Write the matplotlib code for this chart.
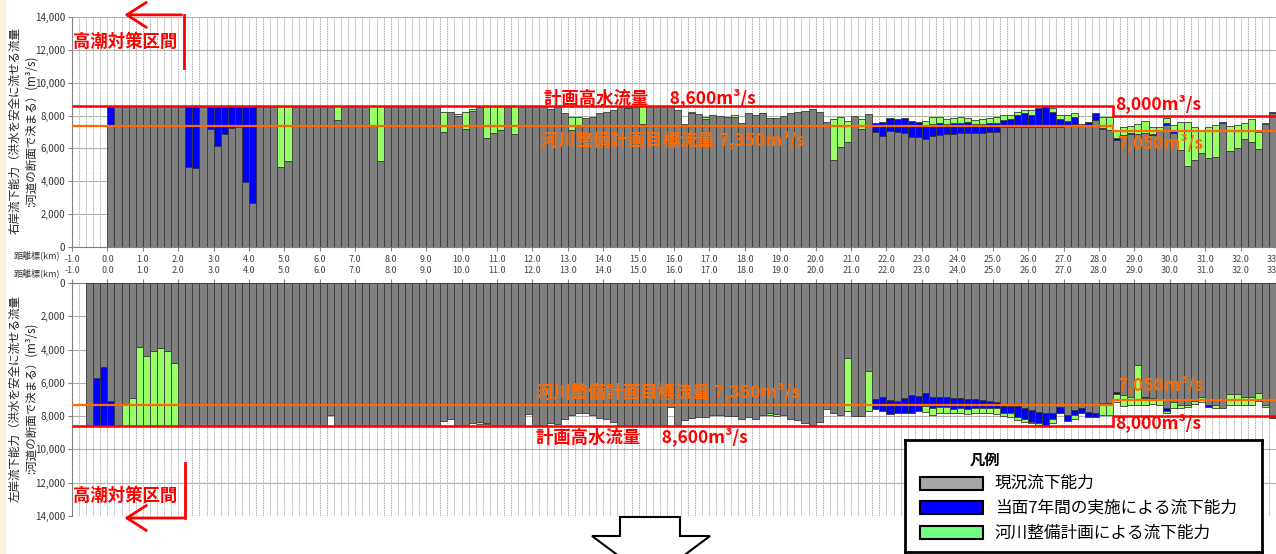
import numpy as np
import matplotlib.pyplot as plt
from matplotlib.patches import Rectangle, Polygon

plt.rcParams['font.family'] = ['Noto Sans CJK JP', 'DejaVu Sans']

# distance marks (km), 0.2 km pitch
right_km = np.round(np.arange(0.0, 32.9, 0.2), 1)   # 右岸 0.0 .. 32.8
left_km = np.round(np.arange(-0.6, 32.9, 0.2), 1)   # 左岸 -0.6 .. 32.8

# 右岸 現況流下能力 (m3/s), one row = 1 km
right_now = [
    7400, 8600, 8600, 8600, 8600,   # 0
    8600, 8600, 8600, 8600, 8600,   # 1
    8600, 4840, 4800, 8600, 7160,   # 2
    6150, 6900, 7220, 7300, 3950,   # 3
    2680, 8600, 8600, 8600, 4880,   # 4
    5220, 8600, 8600, 8600, 8600,   # 5
    8600, 8600, 7730, 8600, 8600,   # 6
    8600, 8600, 7360, 5210, 8600,   # 7
    8600, 8600, 8600, 8600, 8600,   # 8
    8600, 8600, 6980, 8200, 7970,   # 9
    7180, 8300, 8520, 6630, 6960,   # 10
    7120, 8600, 6900, 8600, 8600,   # 11
    8600, 8600, 8400, 8540, 8140,   # 12
    7120, 7360, 7830, 7930, 8140,   # 13
    8200, 8340, 8540, 8440, 8600,   # 14
    7470, 8600, 8600, 8600, 8600,   # 15
    8340, 7470, 8140, 8080, 7810,   # 16
    8030, 7970, 7890, 7890, 7530,   # 17
    8140, 8030, 8140, 7870, 7870,   # 18
    7990, 8140, 8200, 8300, 8380,   # 19
    8240, 7590, 5300, 6110, 6370,   # 20
    7970, 7180, 8080, 7020, 6780,   # 21
    7080, 7020, 6920, 6720, 6720,   # 22
    6570, 6760, 6820, 6880, 6880,   # 23
    6920, 6960, 6960, 6960, 6980,   # 24
    7020, 7320, 7320, 7320, 7320,   # 25
    7320, 7320, 7320, 7320, 7320,   # 26
    7360, 7490, 7490, 7430, 7730,   # 27
    7160, 7120, 6510, 6820, 6860,   # 28
    6860, 6960, 6820, 7080, 7430,   # 29
    6960, 5880, 4950, 5300, 5700,   # 30
    5400, 5460, 7570, 5840, 6010,   # 31
    6550, 6400, 5940, 7470, 8140,   # 32
]

# 右岸 当面7年間の実施後の流下能力 (only where it rises)
right_7yr = {
    0.0: 8600, 2.2: 8600, 2.4: 8600, 2.8: 8600, 3.0: 8600, 3.2: 8600,
    3.4: 8600, 3.6: 8600, 3.8: 8600, 4.0: 8600,
    21.6: 7570, 21.8: 7630, 22.0: 7830, 22.2: 7790, 22.4: 7830, 22.6: 7690,
    22.8: 7630, 23.0: 7360, 23.2: 7490, 23.4: 7530, 23.6: 7490, 23.8: 7570,
    24.0: 7530, 24.2: 7590, 24.4: 7470, 24.6: 7490, 24.8: 7530, 25.0: 7570,
    25.2: 7730, 25.4: 7790, 25.6: 8030, 25.8: 8140, 26.0: 8030, 26.2: 8440,
    26.4: 8600, 26.6: 8200, 26.8: 7790, 27.0: 7690, 27.2: 7890, 27.6: 7590,
    27.8: 8140, 28.0: 7240, 28.4: 6610, 28.8: 6960, 29.4: 6900, 29.8: 7530,
    30.0: 7080, 31.4: 7630, 32.8: 8200,
}

# 右岸 河川整備計画による流下能力
right_plan = {
    4.8: 8600, 5.0: 8600, 6.4: 8600, 7.4: 8600, 7.6: 8600,
    9.4: 8240, 9.8: 8090, 10.0: 8240, 10.2: 8380, 10.6: 8600, 10.8: 8600,
    11.0: 8560, 11.4: 8600, 13.0: 7930, 13.2: 7890, 14.6: 8540, 15.0: 8600,
    16.4: 8200, 16.8: 7930, 17.6: 8010, 18.4: 8180,
    20.4: 7770, 20.6: 7930, 20.8: 7690, 21.2: 7770,
    23.0: 7690, 23.2: 7930, 23.4: 7890, 23.6: 7770, 23.8: 7830, 24.0: 7890,
    24.2: 7830, 24.4: 7730, 24.6: 7770, 24.8: 7830, 25.0: 7890, 25.2: 8030,
    25.4: 8030, 25.6: 8240, 25.8: 8340, 26.0: 8340, 26.6: 8440, 26.8: 8030,
    27.0: 8030, 27.2: 8140, 28.0: 7930, 28.2: 7890, 28.4: 7120, 28.6: 7280,
    28.8: 7380, 29.0: 7470, 29.2: 7690, 29.4: 7280, 29.6: 7280, 29.8: 7830,
    30.0: 7430, 30.2: 7630, 30.4: 7630, 30.6: 7280, 30.8: 7080, 31.0: 7320,
    31.2: 7430, 31.6: 7360, 31.8: 7430, 32.0: 7570, 32.2: 7770, 32.4: 7020,
    32.6: 7530,
}

# 左岸 現況流下能力 (m3/s)
left_now = [
    8600, 5690, 5070,               # -0.6 .. -0.2
    7090, 8600, 7330, 6930, 3830,   # 0
    4370, 4070, 3890, 4070, 4790,   # 1
    8600, 8600, 8600, 8600, 8600,   # 2
    8600, 8600, 8600, 8600, 8600,   # 3
    8600, 8600, 8600, 8600, 8600,   # 4
    8600, 8600, 8600, 8600, 8600,   # 5
    8600, 7930, 8600, 8600, 8600,   # 6
    8600, 8600, 8600, 8600, 8600,   # 7
    8600, 8600, 8600, 8600, 8600,   # 8
    8600, 8600, 8270, 8190, 8600,   # 9
    8600, 8390, 8330, 8390, 8600,   # 10
    8600, 8600, 8600, 8600, 7890,   # 11
    8600, 8600, 8390, 8470, 8190,   # 12
    7930, 7830, 7790, 7910, 8130,   # 13
    8190, 8370, 8600, 8600, 8600,   # 14
    8600, 8600, 8600, 8600, 7430,   # 15
    8600, 8230, 8090, 8030, 8030,   # 16
    7950, 7930, 7970, 7970, 8170,   # 17
    8030, 8190, 7910, 7830, 7890,   # 18
    7930, 8190, 8230, 8390, 8530,   # 19
    8330, 7590, 7790, 7930, 4490,   # 20
    7990, 7990, 5270, 6990, 6830,   # 21
    7030, 7070, 6930, 6730, 6770,   # 22
    6630, 6830, 6830, 6870, 6930,   # 23
    6930, 6990, 6970, 7030, 7070,   # 24
    7130, 7390, 7390, 7390, 7530,   # 25
    7630, 7730, 7790, 7830, 7470,   # 26
    7930, 7630, 7530, 7730, 7830,   # 27
    7190, 7190, 6530, 6730, 6830,   # 28
    4930, 6830, 6930, 6990, 7530,   # 29
    7130, 7330, 7330, 7070, 6870,   # 30
    7330, 7330, 7530, 6670, 6670,   # 31
    6830, 6870, 6590, 7330, 8070,   # 32
]

left_7yr = {
    -0.4: 8600, -0.2: 8600, 0.0: 8600,
    21.6: 7590, 21.8: 7670, 22.0: 7890, 22.2: 7790, 22.4: 7830, 22.6: 7830,
    22.8: 7670, 23.0: 7390, 23.2: 7530, 23.4: 7430, 23.6: 7470, 23.8: 7550,
    24.0: 7530, 24.2: 7570, 24.4: 7490, 24.6: 7530, 24.8: 7530, 25.0: 7530,
    25.2: 7790, 25.4: 7830, 25.6: 8070, 25.8: 8190, 26.0: 8330, 26.2: 8430,
    26.4: 8550, 26.6: 8190, 26.8: 7830, 27.0: 8270, 27.2: 7930, 27.4: 7830,
    27.6: 8030, 27.8: 8070, 28.2: 7270, 28.4: 6670, 29.2: 6930, 29.8: 7670,
    31.0: 7430, 32.8: 8130,
}

left_plan = {
    0.4: 8600, 0.6: 8600, 0.8: 8600, 1.0: 8600, 1.2: 8600, 1.4: 8600,
    1.6: 8600, 1.8: 8600, 10.4: 8470, 10.6: 8490, 18.6: 7930, 18.8: 7990,
    20.8: 7690, 21.4: 7690,
    23.0: 7730, 23.2: 7930, 23.4: 7830, 23.6: 7790, 23.8: 7830, 24.0: 7830,
    24.2: 7870, 24.4: 7790, 24.6: 7830, 24.8: 7790, 25.0: 7870, 25.2: 7990,
    25.4: 8070, 25.6: 8230, 25.8: 8330, 26.0: 8430, 26.2: 8550, 26.4: 8600,
    26.6: 8390, 27.2: 8170, 28.0: 7930, 28.2: 7930, 28.4: 7130, 28.6: 7390,
    28.8: 7330, 29.0: 7330, 29.2: 7330, 29.4: 7270, 29.6: 7330, 29.8: 7830,
    30.0: 7530, 30.2: 7530, 30.4: 7430, 30.6: 7270, 30.8: 7130, 31.2: 7530,
    31.6: 7330, 31.8: 7330, 32.0: 7330, 32.2: 7330, 32.4: 7070, 32.6: 7470,
}

# 計画高水流量 / 河川整備計画目標流量 (section edges in km)
flow_edges = [-1.0, 28.4, 33.5]
plan_high_flow = [8600, 8000]
target_flow = [7350, 7050]

assert len(right_now) == len(right_km) and len(left_now) == len(left_km)

GRAY = '#808080'
BLUE = '#0000ff'
GREEN = '#99ff66'
EDGE = '#3a3a3a'
RED = '#ff0000'
ORANGE = '#ff6a00'
W, H = 1276, 554

fig = plt.figure(figsize=(W / 100, H / 100), dpi=100)
fig.patches.append(Rectangle((0, 0), 5 / W, 1, transform=fig.transFigure,
                             color='#fcefdc', zorder=0))

ax_r = fig.add_axes([72 / W, 1 - 247 / H, 1 - 72 / W, 230 / H])
ax_l = fig.add_axes([72 / W, 1 - 516 / H, 1 - 72 / W, 233 / H])


def draw_bank(ax, km, now, lvl7, lvlplan):
    now = np.array(now, dtype=float)
    l7 = np.array([lvl7.get(k, n) for k, n in zip(km, now)], dtype=float)
    lp = np.array([lvlplan.get(k, b) for k, b in zip(km, l7)], dtype=float)
    ax.bar(km, now, width=0.2, align='edge', color=GRAY,
           edgecolor=EDGE, linewidth=0.6, zorder=3)
    m = l7 > now
    ax.bar(km[m], (l7 - now)[m], bottom=now[m], width=0.2, align='edge',
           color=BLUE, edgecolor=EDGE, linewidth=0.6, zorder=3)
    m = lp > l7
    ax.bar(km[m], (lp - l7)[m], bottom=l7[m], width=0.2, align='edge',
           color=GREEN, edgecolor=EDGE, linewidth=0.6, zorder=3)
    ax.stairs(plan_high_flow, flow_edges, color=RED, lw=1.8,
              baseline=None, zorder=5)
    ax.stairs(target_flow, flow_edges, color=ORANGE, lw=1.6,
              baseline=None, zorder=5)

    ax.set_xlim(-1.0, 32.94)
    ax.set_ylim(0, 14000)
    ax.set_yticks(np.arange(0, 14001, 2000))
    ax.set_yticklabels([f'{v:,}' for v in range(0, 14001, 2000)],
                       fontsize=7, color='#333333')
    ax.set_xticks(np.arange(-1, 34, 1.0))
    ax.set_xticklabels([f'{v:.1f}' for v in np.arange(-1, 34, 1.0)],
                       fontsize=6.5, color='#444444')
    ax.set_xticks(np.arange(-1, 33.0, 0.2), minor=True)
    ax.tick_params(axis='x', which='minor', length=0)
    ax.tick_params(axis='x', which='major', length=3, color='#808080', pad=3)
    ax.tick_params(axis='y', length=3, color='#808080', pad=2)
    ax.grid(axis='x', which='both', color='#a8a8a8', ls=(0, (2, 1)), lw=0.6)
    ax.grid(axis='y', which='major', color='#b0b0b0', lw=0.8)
    ax.set_axisbelow(True)
    for s in ax.spines.values():
        s.set_color('#808080')
        s.set_linewidth(0.8)
    ax.spines['right'].set_visible(False)


draw_bank(ax_r, right_km, right_now, right_7yr, right_plan)
draw_bank(ax_l, left_km, left_now, left_7yr, left_plan)
ax_r.spines['top'].set_visible(False)
ax_l.spines['bottom'].set_visible(False)
ax_l.invert_yaxis()
ax_l.xaxis.tick_top()

txt = dict(fontsize=12.5, fontweight='bold', va='center', ha='left', zorder=6)
# 右岸
ax_r.text(12.33, 9070, '計画高水流量　 8,600m³/s', color=RED, **txt)
ax_r.text(12.25, 6500, '河川整備計画目標流量 7,350m³/s', color=ORANGE, **txt)
ax_r.text(28.45, 8700, '8,000m³/s', color=RED, **txt)
ax_r.text(28.5, 6330, '7,050m³/s', color=ORANGE, **txt)
# 左岸
ax_l.text(12.1, 6550, '河川整備計画目標流量 7,350m³/s', color=ORANGE, **txt)
ax_l.text(12.1, 9250, '計画高水流量　 8,600m³/s', color=RED, **txt)
ax_l.text(28.5, 6130, '7,050m³/s', color=ORANGE, **txt)
ax_l.text(28.45, 8410, '8,000m³/s', color=RED, **txt)

# 高潮対策区間
arrow = dict(arrowstyle='->,head_length=1.4,head_width=0.9', color=RED, lw=2)
ax_r.plot([2.15, 2.15], [14130, 10900], color=RED, lw=2, clip_on=False, zorder=6)
ax_r.annotate('', xy=(0.4, 14130), xytext=(2.17, 14130), arrowprops=arrow,
              annotation_clip=False)
ax_r.text(-0.97, 12480, '高潮対策区間', color=RED, fontsize=12.5,
          fontweight='bold', va='center', ha='left', zorder=6)
ax_l.plot([2.2, 2.2], [10800, 14120], color=RED, lw=2, clip_on=False, zorder=6)
ax_l.annotate('', xy=(0.4, 14120), xytext=(2.22, 14120), arrowprops=arrow,
              annotation_clip=False)
ax_l.text(-0.97, 12800, '高潮対策区間', color=RED, fontsize=12.5,
          fontweight='bold', va='center', ha='left', zorder=6)

# axis captions
fig.text(23 / W, 1 - 131 / H,
         '右岸流下能力（洪水を安全に流せる流量\n:河道の断面で決まる）(m³/s)',
         rotation=90, ha='center', va='center', multialignment='center',
         fontsize=8.3, linespacing=1.3, color='#222222')
fig.text(23 / W, 1 - 398 / H,
         '左岸流下能力（洪水を安全に流せる流量\n:河道の断面で決まる）(m³/s)',
         rotation=90, ha='center', va='center', multialignment='center',
         fontsize=8.3, linespacing=1.3, color='#222222')
fig.text(37 / W, 1 - 255 / H, '距離標(km)', fontsize=6.5, ha='center',
         va='center', color='#333333')
fig.text(37 / W, 1 - 273 / H, '距離標(km)', fontsize=6.5, ha='center',
         va='center', color='#333333')

# legend box
lg = fig.add_axes([905 / W, 2 / H, 357 / W, 112 / H])
lg.set_xlim(0, 1)
lg.set_ylim(0, 1)
lg.set_xticks([])
lg.set_yticks([])
for s in lg.spines.values():
    s.set_color('black')
    s.set_linewidth(2)
lg.text(0.225, 0.82, '凡例', fontsize=11, fontweight='bold', ha='center', va='center')
legend_items = [('#a6a6a6', '現況流下能力'),
                (BLUE, '当面7年間の実施による流下能力'),
                ('#70ff80', '河川整備計画による流下能力')]
for (col, lab), yc in zip(legend_items, [0.616, 0.393, 0.17]):
    lg.add_patch(Rectangle((0.042, yc - 0.058), 0.176, 0.116, facecolor=col,
                           edgecolor='black', lw=1.5))
    lg.text(0.252, yc, lab, fontsize=12, ha='left', va='center')

# down arrow below the charts
pts = [(620, 517), (680, 517), (680, 536), (710, 536), (651, 580),
       (592, 536), (620, 536)]
fig.patches.append(Polygon([(x / W, 1 - y / H) for x, y in pts], closed=True,
                           transform=fig.transFigure, facecolor='white',
                           edgecolor='black', lw=1.5, zorder=2))

fig.savefig('out.png', dpi=100)
